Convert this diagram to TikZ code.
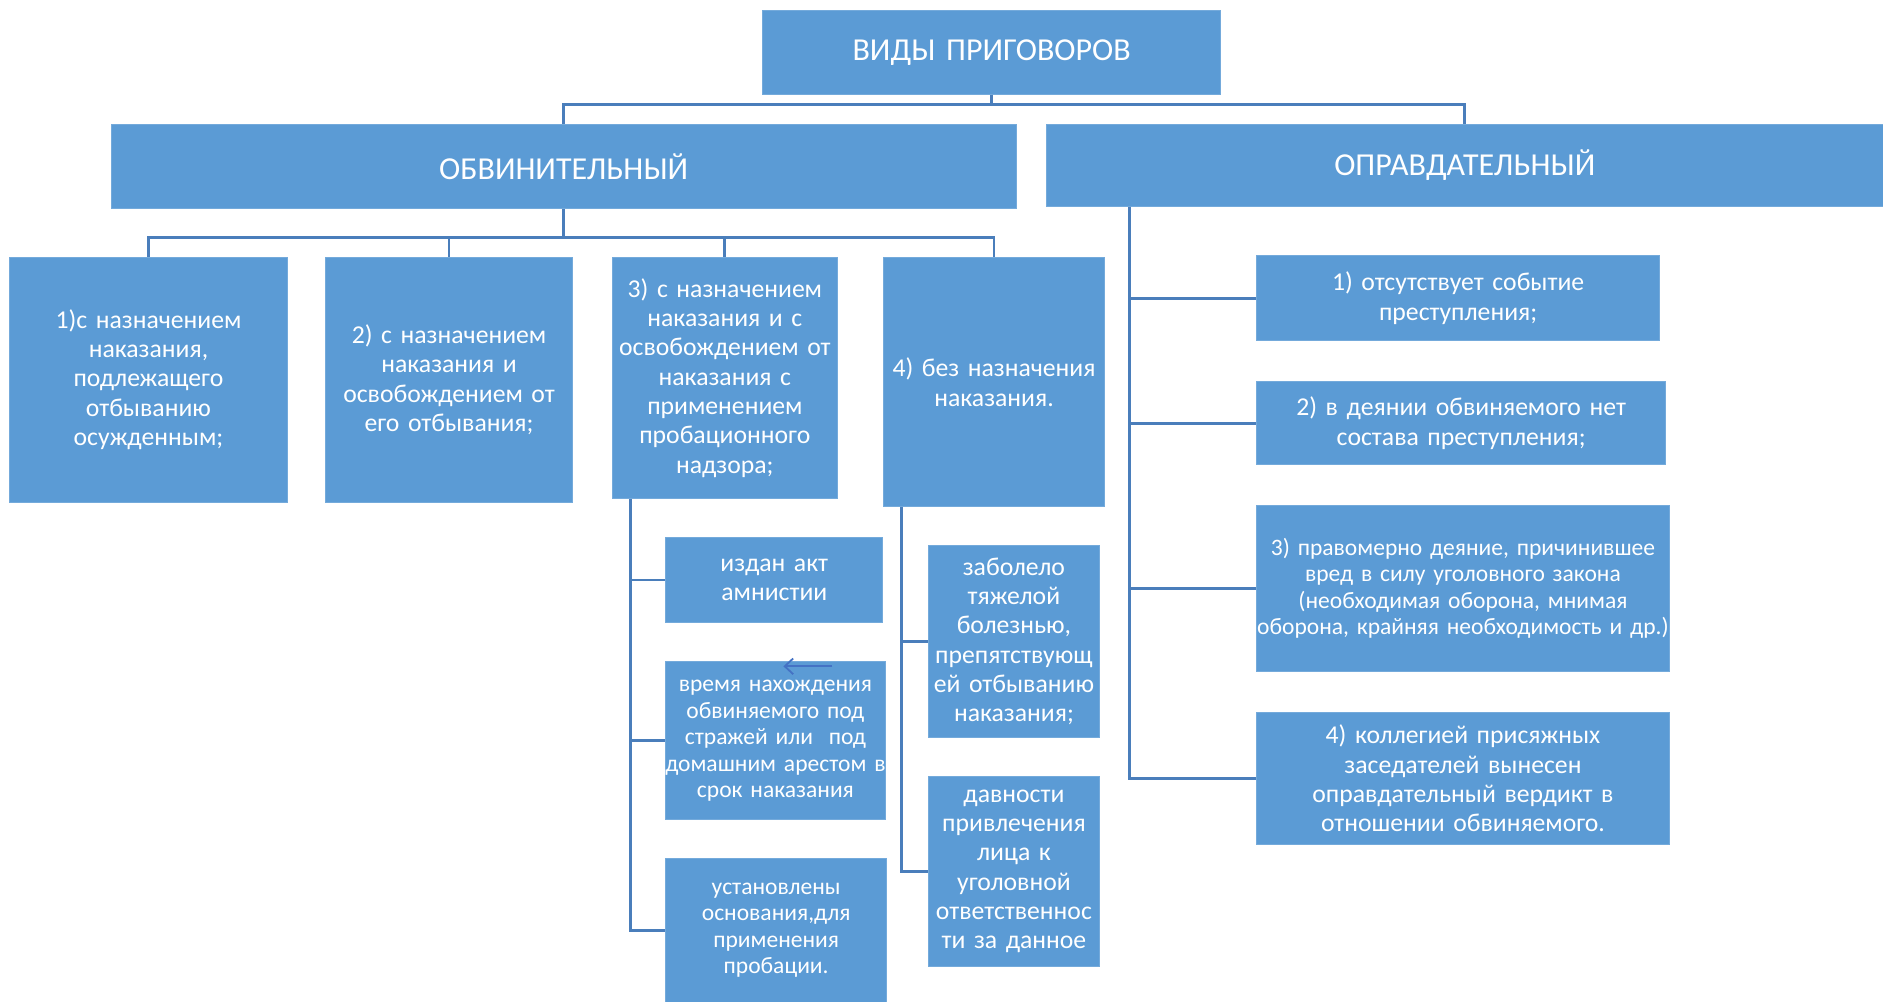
\documentclass[tikz,border=0pt]{standalone}
\usepackage{fontspec}
\setmainfont{Carlito}
\usetikzlibrary{arrows.meta}
\definecolor{boxblue}{HTML}{5B9BD5}
\definecolor{lineblue}{HTML}{4A7EBB}
\definecolor{arrowblue}{HTML}{4472C4}
\tikzset{
  verdict node/.style={
    fill=boxblue, draw=boxblue!85!white, line width=0.8pt, text=white,
    align=center, inner sep=0pt, font=\fontsize{21.3}{24.3}\selectfont
  },
  head node/.style={verdict node, font=\fontsize{26.5}{30}\selectfont},
  small node/.style={verdict node, font=\fontsize{19.5}{22}\selectfont},
  link/.style={draw=lineblue, line width=2.4pt}
}
\begin{document}
\begin{tikzpicture}[x=1pt,y=-1pt]
    \useasboundingbox (0,0) rectangle (1560,830);
    % top level
    \draw (821.5,43.5) node[head node, text width=379pt, minimum height=69pt] (kinds) {ВИДЫ ПРИГОВОРОВ};
    \draw (467,138) node[head node, text width=750pt, minimum height=70pt] (guilty) {ОБВИНИТЕЛЬНЫЙ};
    \draw (1213.5,137) node[head node, text width=693pt, minimum height=68pt] (acquit) {ОПРАВДАТЕЛЬНЫЙ};
    % guilty verdicts
    \draw (123,314.5) node[verdict node, text width=230pt, minimum height=203pt] (guilty1) {1)с назначением\\наказания,\\подлежащего\\отбыванию\\осужденным;};
    \draw (372,314.5) node[verdict node, text width=204pt, minimum height=203pt] (guilty2) {2) с назначением\\наказания и\\освобождением от\\его отбывания;};
    \draw (600.5,313) node[verdict node, text width=187pt, minimum height=200pt] (guilty3) {3) с назначением\\наказания и с\\освобождением от\\наказания с\\применением\\пробационного\\надзора;};
    \draw (823.5,316.5) node[verdict node, text width=183pt, minimum height=207pt] (guilty4) {4) без назначения\\наказания.};
    % grounds under 3)
    \draw (641.5,480.5) node[verdict node, text width=180pt, minimum height=70pt] (amnesty) {издан акт\\амнистии};
    \draw (642.4,613.7) node[small node, text width=182pt, minimum height=131pt] (custody) {время нахождения\\обвиняемого под\\стражей или~~под\\\makebox[182pt]{домашним арестом в}\\срок наказания};
    \draw (643,770.7) node[small node, text width=183pt, minimum height=119pt] (probation) {установлены\\основания,для\\применения\\пробации.};
    % grounds under 4)
    \draw (840,531.5) node[verdict node, text width=142pt, minimum height=159pt] (illness) {заболело\\тяжелой\\болезнью,\\препятствующ\\ей отбыванию\\наказания;};
    \draw (840,722) node[verdict node, text width=142pt, minimum height=157pt] (limitation) {давности\\привлечения\\лица к\\уголовной\\ответственнос\\ти за данное};
    % acquittal grounds
    \draw (1208,247) node[verdict node, text width=334pt, minimum height=70pt] (acquit1) {1) отсутствует событие\\преступления;};
    \draw (1210.5,350.5) node[verdict node, text width=339pt, minimum height=69pt] (acquit2) {2) в деянии обвиняемого нет\\состава преступления;};
    \draw (1212,487.5) node[small node, text width=342pt, minimum height=137pt] (acquit3) {3) правомерно деяние, причинившее\\вред в силу уголовного закона\\(необходимая оборона, мнимая\\\makebox[342pt]{оборона, крайняя необходимость и др.)}};
    \draw (1212,645) node[verdict node, text width=342pt, minimum height=110pt] (acquit4) {4) коллегией присяжных\\заседателей вынесен\\оправдательный вердикт в\\отношении обвиняемого.};
    % connectors
    \draw[link] (kinds.south) -- ++(0,8) -| (guilty.north);
    \draw[link] (kinds.south) -- ++(0,8) -| (acquit.north);
    \foreach \n in {guilty1,guilty2,guilty3,guilty4}
        \draw[link] (guilty.south) -- ++(0,23) -| (\n.north);
    \foreach \n in {acquit1,acquit2,acquit3,acquit4}
        \draw[link] ([xshift=69pt]acquit.south west) |- (\n.west);
    \foreach \n in {amnesty,custody,probation}
        \draw[link] ([xshift=16pt]guilty3.south west) |- (\n.west);
    \foreach \n in {illness,limitation}
        \draw[link] ([xshift=15pt]guilty4.south west) |- (\n.west);
    % stray arrow
    \coordinate (tip) at (649,552);
    \coordinate (tail) at (689.5,552);
    \draw[arrowblue, line width=1.5pt, -{Straight Barb[length=7pt,width=13pt]}] (tail) -- (tip);
\end{tikzpicture}
\end{document}
